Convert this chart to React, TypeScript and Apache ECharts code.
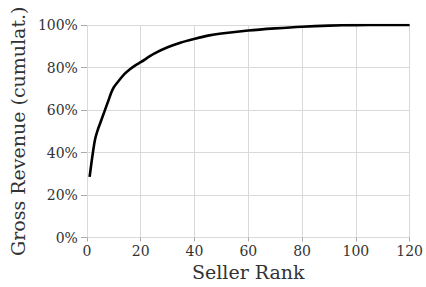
import React, { useEffect, useRef } from "react";
import * as echarts from "echarts";

const sellerRank = [1, 2, 3, 4, 5, 6, 7, 8, 9, 10, 12, 14, 16, 18, 20, 25, 30, 35, 40, 45, 50, 60, 70, 80, 90, 100, 110, 120];
const cumulativeRevenue = [28.5, 38, 46, 50.5, 54, 57.5, 61, 64.5, 68, 70.7, 74, 77, 79.2, 81, 82.5, 86.5, 89.5, 91.8, 93.5, 95, 96, 97.4, 98.4, 99.2, 99.7, 99.95, 100, 100];

const xTicks = [0, 20, 40, 60, 80, 100, 120];
const yTicks = [0, 20, 40, 60, 80, 100];

export default function App() {
  const ref = useRef<HTMLDivElement>(null);
  useEffect(() => {
    if (!ref.current) return;
    const chart = echarts.init(ref.current, null, { renderer: "svg" });
    const font = "'DejaVu Serif', serif";
    const grid = "#d9d9d9";
    chart.setOption({
      animation: false,
      grid: { left: 83, right: 15.5, top: 25, bottom: 49.5 },
      xAxis: {
        type: "value",
        min: xTicks[0],
        max: xTicks[xTicks.length - 1],
        interval: 20,
        name: "Seller Rank",
        nameLocation: "middle",
        nameGap: 23,
        nameTextStyle: { fontFamily: font, fontSize: 19, color: "#333" },
        axisLine: { show: false },
        axisTick: { show: true, length: 4, lineStyle: { color: "#aaa" } },
        axisLabel: { fontFamily: font, fontSize: 14, color: "#333", margin: 6 },
        splitLine: { show: true, lineStyle: { color: grid, width: 1 } },
      },
      yAxis: {
        type: "value",
        min: yTicks[0],
        max: yTicks[yTicks.length - 1],
        interval: 20,
        name: "Gross Revenue (cumulat.)",
        nameLocation: "middle",
        nameGap: 57,
        nameTextStyle: { fontFamily: font, fontSize: 19, color: "#333" },
        axisLine: { show: false },
        axisTick: { show: true, length: 6, lineStyle: { color: "#aaa" } },
        axisLabel: { fontFamily: font, fontSize: 14, color: "#333", margin: 9, formatter: "{value}%" },
        splitLine: { show: true, lineStyle: { color: grid, width: 1 } },
      },
      series: [
        {
          type: "line",
          data: sellerRank.map((x, i) => [x, cumulativeRevenue[i]]),
          showSymbol: false,
          smooth: 0.3,
          lineStyle: { color: "#000", width: 2.6 },
        },
      ],
    });
    return () => chart.dispose();
  }, []);
  return <div ref={ref} style={{ width: 426, height: 287, position: "absolute", left: 0, top: 0 }} />;
}
